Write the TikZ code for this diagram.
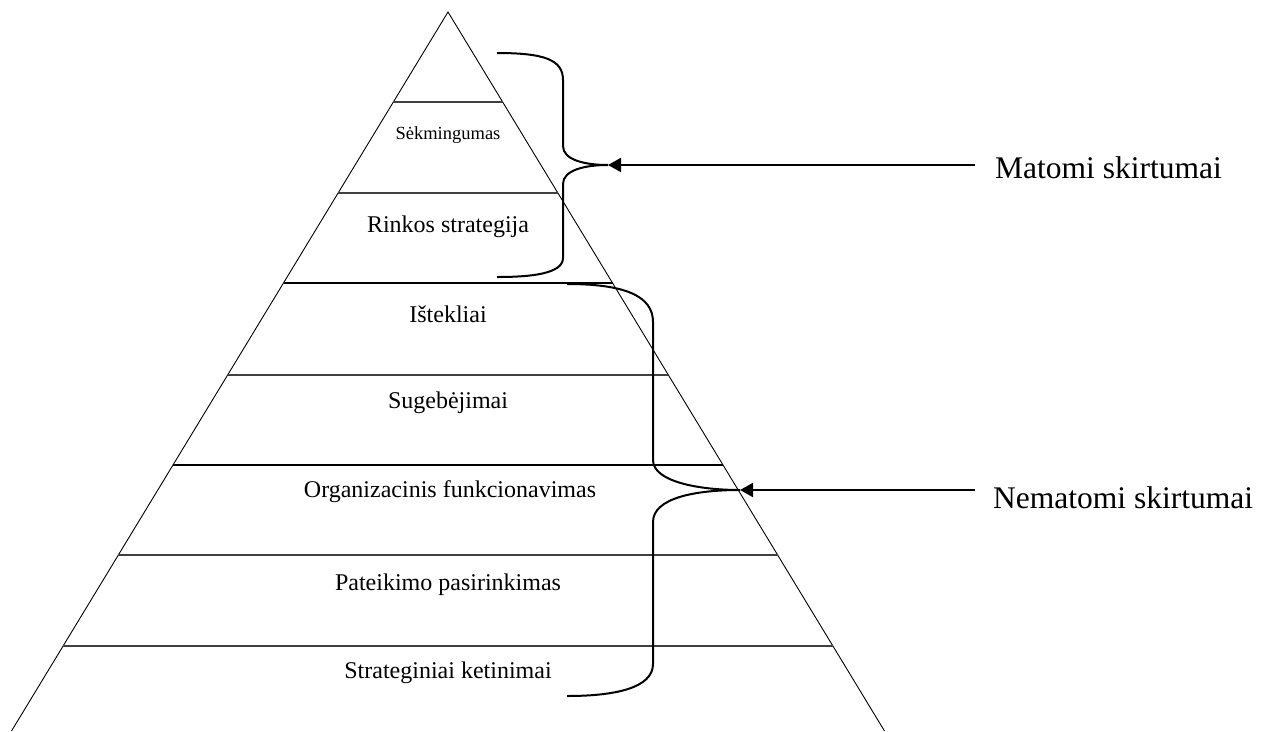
\documentclass[tikz,border=0pt]{standalone}
\usepackage{fontspec}
\setmainfont{Liberation Serif}
\usetikzlibrary{arrows.meta}
\begin{document}
\begin{tikzpicture}[x=1pt,y=-1pt,
  side/.style={draw=black,line width=0.9pt},
  tier/.style={draw=black!75,line width=1.8pt},
  tierdark/.style={draw=black,line width=1.8pt},
  brace/.style={draw=black,line width=2pt},
  pointer/.style={draw=black,line width=2pt,-{Triangle[length=13pt,width=14pt]}},
  lbl/.style={anchor=base,inner sep=0pt,font=\fontsize{24}{28}\selectfont},
  small/.style={anchor=base,inner sep=0pt,font=\fontsize{18.5}{22}\selectfont},
  big/.style={anchor=base west,inner sep=0pt,font=\fontsize{31.5}{36}\selectfont}]
\useasboundingbox (0,0) rectangle (1273,731);
% pyramid
\coordinate (apex) at (448,12);
\coordinate (bl) at (11.5,731);
\coordinate (br) at (884.5,731);
\draw[side] (bl) -- (apex) -- (br);
% tiers
\draw[tier] (393.4,102) -- (502.6,102);
\draw[tier] (338.1,193) -- (557.9,193);
\draw[tierdark] (283.5,283) -- (612.5,283);
\draw[tier] (227.6,375) -- (668.4,375);
\draw[tierdark] (173.0,465) -- (723.0,465);
\draw[tier] (118.3,555) -- (777.7,555);
\draw[tier] (63.1,646) -- (832.9,646);
% tier labels
\node[small] (t1) at (448,139) {Sėkmingumas};
\node[lbl] (t2) at (448,232) {Rinkos strategija};
\node[lbl] (t3) at (448,322) {Ištekliai};
\node[lbl] (t4) at (448,408) {Sugebėjimai};
\node[lbl] (t5) at (450,497) {Organizacinis funkcionavimas};
\node[lbl] (t6) at (448,590) {Pateikimo pasirinkimas};
\node[lbl] (t7) at (448,678) {Strateginiai ketinimai};
% braces
\coordinate (tipA) at (608,165);
\coordinate (tipB) at (740,490);
\draw[brace] (497,53) .. controls (545,53) and (563,60) .. (563,80)
  -- (563,146) .. controls (563,160) and (585,165) .. (tipA)
  .. controls (585,165) and (563,170) .. (563,184)
  -- (563,258) .. controls (563,274) and (530,277) .. (497,277);
\draw[brace] (567,284) .. controls (625,284) and (653,296) .. (653,322)
  -- (653,460) .. controls (653,482) and (700,490) .. (tipB)
  .. controls (695,490) and (653,498) .. (653,522)
  -- (653,664) .. controls (653,688) and (615,696) .. (567,696);
% labels and pointers
\node[big] (vis) at (995,178) {Matomi skirtumai};
\node[big] (invis) at (993,508) {Nematomi skirtumai};
\coordinate (sA) at (975,165);
\coordinate (sB) at (975,490);
\draw[pointer] (sA) -- (tipA);
\draw[pointer] (sB) -- (tipB);
\end{tikzpicture}
\end{document}
